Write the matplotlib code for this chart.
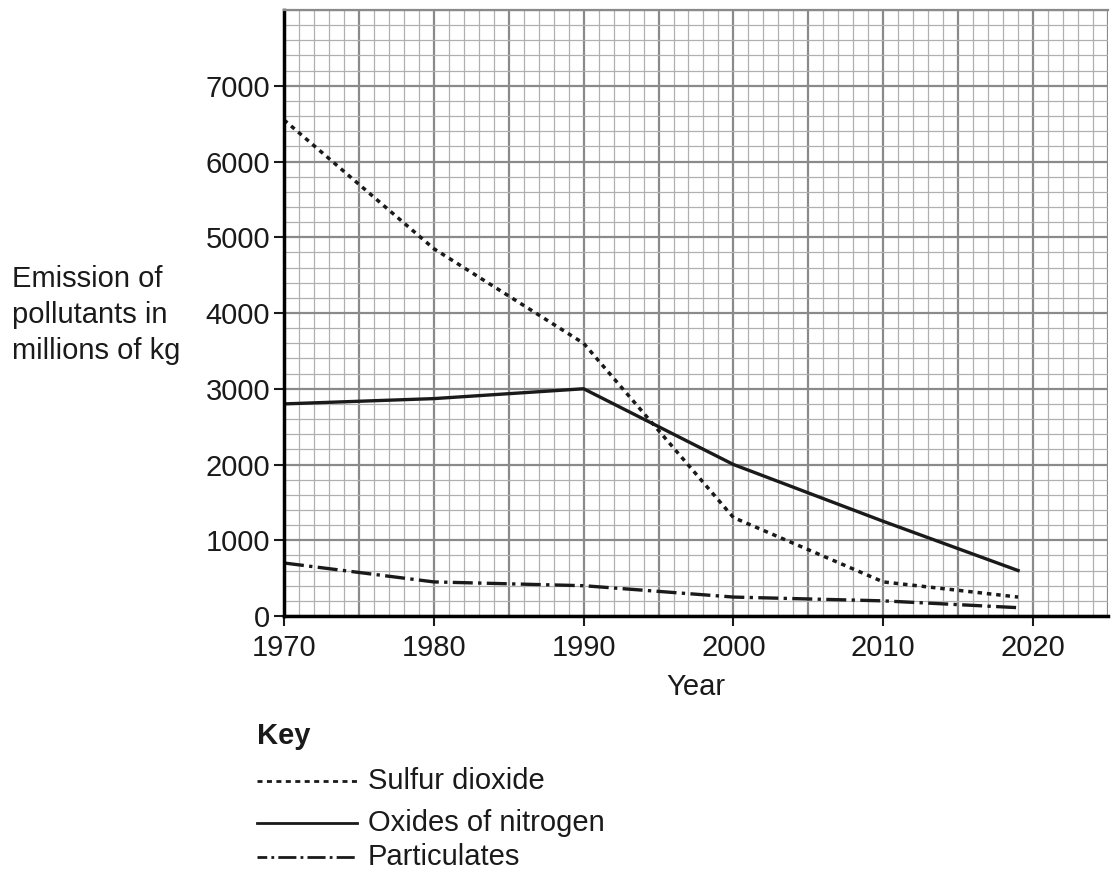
import matplotlib
matplotlib.use('Agg')
from matplotlib import pyplot as plt
from matplotlib.lines import Line2D
import numpy as np

plt.rcParams['font.family'] = ['Liberation Sans', 'DejaVu Sans']

# data
years = [1970, 1980, 1990, 2000, 2010, 2019]
sulfur_dioxide = [6550, 4850, 3600, 1300, 450, 250]
oxides_of_nitrogen = [2800, 2870, 3000, 2000, 1250, 600]
particulates = [700, 450, 400, 250, 200, 110]

x_ticks = [1970, 1980, 1990, 2000, 2010, 2020]
y_ticks = [0, 1000, 2000, 3000, 4000, 5000, 6000, 7000]

fig = plt.figure(figsize=(11.11, 8.8), dpi=100)
ax = fig.add_axes([0.2556, 0.3, 0.7417, 0.6886])

ax.set_xlim(1970, 2025)
ax.set_ylim(0, 8000)

# graph paper grid
for xv in np.arange(1970, 2026, 1):
    major = (xv % 5 == 0)
    ax.axvline(xv, color='#8a8a8a' if major else '#b0b0b0',
               lw=1.6 if major else 0.9, zorder=0)
for yv in np.arange(0, 8001, 200):
    major = (yv % 1000 == 0)
    ax.axhline(yv, color='#8a8a8a' if major else '#b0b0b0',
               lw=1.6 if major else 0.9, zorder=0)

dotted = (0, (1.3, 1.4))
dash_dot = (0, (6, 1.6, 1, 1.6))
ax.plot(years, sulfur_dioxide, color='#1a1a1a', lw=2.5, ls=dotted)
ax.plot(years, oxides_of_nitrogen, color='#1a1a1a', lw=2.4, ls='-')
ax.plot(years, particulates, color='#1a1a1a', lw=2.4, ls=dash_dot)

ax.set_xticks(x_ticks)
ax.set_yticks(y_ticks)
ax.tick_params(labelsize=21, length=7, width=1.5, color='#1a1a1a',
               labelcolor='#1a1a1a')
ax.tick_params(axis='x', pad=6)
ax.tick_params(axis='y', pad=3)
ax.spines['left'].set_linewidth(2.5)
ax.spines['bottom'].set_linewidth(2.5)
ax.spines['top'].set_color('#8a8a8a')
ax.spines['top'].set_linewidth(1.6)
ax.spines['right'].set_visible(False)

ax.set_xlabel('Year', fontsize=21, labelpad=8, color='#1a1a1a')
fig.text(0.011, 0.642, 'Emission of\npollutants in\nmillions of kg',
         fontsize=21, ha='left', va='center', linespacing=1.35, color='#1a1a1a')

# key
fig.text(0.231, 0.164, 'Key', fontsize=21, fontweight='bold', color='#1a1a1a',
         va='center')
styles = [((0, (1.8, 1.6)), 'Sulfur dioxide'),
          ('-', 'Oxides of nitrogen'),
          ((3, (6.5, 1.5, 1, 1.5)), 'Particulates')]
key_y = [0.112, 0.065, 0.026]
for (ls, name), ky in zip(styles, key_y):
    fig.add_artist(Line2D([0.2313, 0.3213], [ky, ky], transform=fig.transFigure,
                          color='#1a1a1a', lw=2.0, ls=ls))
    fig.text(0.331, ky, name, fontsize=21, va='center', color='#1a1a1a')

plt.savefig('out.png', dpi=100)
